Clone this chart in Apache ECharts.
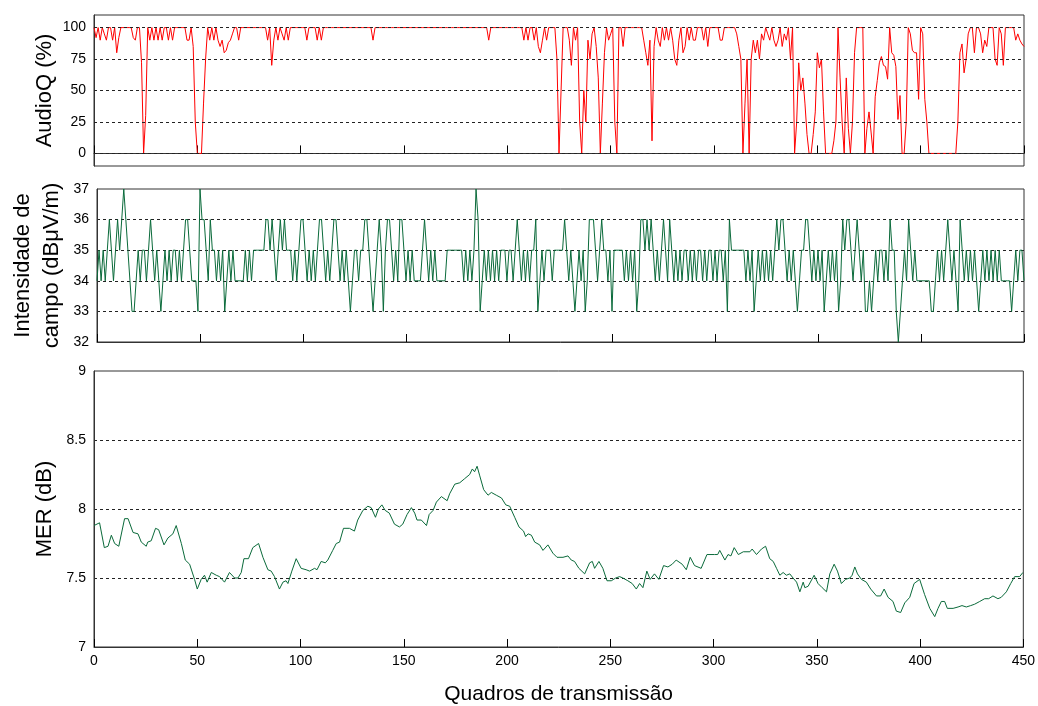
<!DOCTYPE html>
<html>
<head>
<meta charset="utf-8">
<script src="https://cdn.jsdelivr.net/npm/echarts@6/dist/echarts.min.js"></script>
<style>
html,body{margin:0;padding:0;background:#fff;}
#chart{width:1038px;height:706px;}
</style>
</head>
<body>
<div id="chart"></div>
<script>
// X axis ticks
const xTicks = [0, 50, 100, 150, 200, 250, 300, 350, 400, 450];
const audioTicks = [0, 25, 50, 75, 100];

// AudioQ (%) per transmission frame 0..450
const audioQ = [
100,92,100,90,100,95,90,100,100,90,
100,80,92,100,100,100,100,100,100,92,
90,100,100,72,0,30,100,90,100,90,
100,90,100,90,100,100,90,100,90,100,
100,100,100,100,100,90,90,100,85,25,
0,0,0,40,75,100,90,100,90,100,
90,85,90,80,82,88,90,95,100,100,
90,100,100,100,100,100,100,100,100,100,
100,100,100,100,90,100,70,90,100,90,
100,95,90,100,90,100,100,100,100,100,
100,100,100,90,100,100,100,100,90,100,
90,100,100,100,100,100,100,100,100,100,
100,100,100,100,100,100,100,100,100,100,
100,100,100,100,100,90,100,100,100,100,
100,100,100,100,100,100,100,100,100,100,
100,100,100,100,100,100,100,100,100,100,
100,100,100,100,100,100,100,100,100,100,
100,100,100,100,100,100,100,100,100,100,
100,100,100,100,100,100,100,100,100,100,
100,90,100,100,100,100,100,100,100,100,
100,100,100,100,100,100,100,100,90,100,
90,100,100,90,100,85,80,90,100,90,
100,100,100,100,75,0,50,100,100,100,
90,70,100,90,100,25,0,50,25,90,
75,95,100,85,60,0,40,80,100,90,
95,100,25,0,100,100,85,100,100,100,
100,100,100,100,100,100,90,80,70,90,
10,85,100,90,85,100,90,100,90,100,
90,75,70,90,100,80,85,100,90,100,
90,90,100,100,100,90,100,85,100,100,
100,100,100,90,90,100,100,100,100,100,
100,95,85,75,0,40,75,0,75,90,
80,90,75,95,90,100,95,90,100,90,
85,90,100,85,95,90,100,75,100,0,
25,72,50,60,40,15,0,0,15,33,
80,68,75,33,0,0,0,0,10,25,
100,60,25,0,60,20,0,25,80,100,
100,100,100,0,20,33,17,0,45,58,
72,77,70,69,59,100,80,78,69,27,
46,0,0,25,100,95,82,80,80,43,
100,95,43,25,0,0,0,0,0,0,
0,0,0,0,0,0,0,0,25,80,
87,64,75,95,100,100,80,100,100,95,
80,90,85,100,100,100,75,70,100,95,
70,100,100,100,100,100,90,95,90,87,
85
];

// Intensidade de campo (dBμV/m) per frame 0..450
const fieldStrength = [
34,35,34,35,34,35,36,35,34,35,
36,35,36,37,36,35,34,33,33,34,
35,34,35,35,34,35,36,35,34,35,
34,33,34,35,34,35,34,35,35,34,
35,34,35,36,36,35,34,34,34,33,
37,36,36,35,34,36,35,35,34,35,
34,35,33,34,35,34,35,34,34,34,
34,34,35,34,35,34,35,35,35,35,
35,35,36,36,35,36,35,34,35,36,
35,36,35,35,35,34,35,34,35,36,
36,35,34,35,34,35,34,35,36,36,
35,34,
35,34,35,36,36,35,34,35,
34,35,34,33,34,35,35,34,35,35,
36,36,35,34,33,34,35,36,35,33,
35,36,36,35,34,35,34,36,36,35,
34,35,34,35,34,34,34,34,35,36,
35,34,35,34,35,34,34,34,34,34,
35,35,35,35,35,35,35,35,34,35,
34,35,34,35,37,36,33,34,35,34,
35,34,35,34,35,34,35,35,35,34,
35,35,34,35,36,35,34,35,34,35,
34,35,35,36,33,34,35,34,35,35,
35,34,35,35,35,35,35,36,
35,34,35,34,33,34,35,34,35,33,
34,36,36,36,35,34,35,36,35,35,
34,35,33,35,35,35,35,35,34,35,
34,35,34,35,33,34,36,36,35,36,
35,36,35,34,35,34,35,36,35,34,
36,35,34,35,34,35,34,35,35,34,
35,34,35,34,35,35,34,35,34,35,
35,34,35,34,35,35,34,35,33,36,
35,35,35,35,35,35,35,34,35,34,
35,33,34,35,34,35,34,35,34,35,
34,35,36,35,36,36,35,34,35,34,
35,
34,33,34,35,35,36,36,35,34,35,
34,35,34,35,33,34,35,34,35,34,
35,33,34,36,35,36,36,35,34,35,
36,35,34,35,33,33,34,33,34,35,
34,35,35,34,35,34,36,35,35,33,
32,33,34,35,34,36,35,34,35,34,
34,34,34,34,34,34,33,33,34,35,
34,35,34,35,36,35,34,35,34,33,
36,35,34,35,34,35,34,35,34,33,
34,35,34,35,34,35,34,35,34,35,
34,34,34,34,34,33,34,35,34,35,
35,34
];

// MER (dB): sampled frame positions and values
const merX = [
0,2.7,5,6.8,8.4,10,12,14.8,16.5,18.9,
21.3,22.9,25.3,26,27.7,29.8,31.3,33.9,35.8,38.2,
39.8,42.3,44.2,46.3,48.7,50,51.9,53.5,54.8,56.8,
59.2,60.8,63.2,65.6,68.1,69.7,71.3,72.6,74.8,76.9,
79.7,81.8,84.2,85.8,87.4,89.8,91.5,93,93.9,95.8,
97.9,100.3,102.7,104.4,106.8,108,110,112,113.2,115.6,
117.3,118.9,120.8,123.7,126.1,127.7,130.2,132.6,134.2,136.3,
137.7,139.4,141,143,145.5,147.9,149.5,151.6,
153.7,155.3,156.4,158.5,161,162.3,164.2,165.8,168.2,169,
171,172.2,174.7,177.1,179.5,181.9,183.2,184.3,185.5,186.8,
188.7,190.8,192.4,194.8,197.3,199.4,201.3,203.7,205.8,208,
209,210.2,211.8,213.4,215.8,217.4,219.8,222.2,224.2,227.1,
229.5,231.1,232.7,234.8,237.6,240,241.3,242.4,244.5,246.4,
248.4,250.5,252.6,254.5,256.1,258.5,260.6,262.6,264.2,265.8,
267.7,269.3,271.4,273.5,275.8,277.9,280,281.9,284.8,286.8,
288.7,290.8,294,296.8,300.5,
302,303,305.5,307,308.4,310,312,314.4,317.6,318.7,
320.8,323.2,325.2,327.2,328.9,330.5,332.1,333.7,335.3,336.9,
338.5,340.2,341.8,343.4,344.2,345.8,348.7,350.6,352.6,354.7,
356.3,358.4,360,361.9,363.9,366,367.1,368.4,369.7,371.6,
374,376.1,378.9,380.9,382.6,384.5,386.9,388.5,390.6,392.6,
395,395.8,397.1,399.8,402.2,404.7,407.1,408.7,410.3,411.9,
413.2,416,418.4,420.3,422.4,424.5,426.4,428.9,431.3,433.2,
435.3,437.7,439.3,441.8,443.9,445.8,448.2,449.8
];
const merY = [
7.88,7.90,7.72,7.73,7.81,7.75,7.73,7.93,7.93,7.83,
7.82,7.76,7.73,7.76,7.77,7.86,7.85,7.74,7.79,7.82,
7.88,7.75,7.63,7.60,7.49,7.42,7.49,7.52,7.47,7.54,
7.52,7.51,7.47,7.54,7.50,7.50,7.54,7.64,7.64,7.72,
7.75,7.65,7.56,7.55,7.51,7.42,7.47,7.48,7.46,7.55,
7.64,7.57,7.56,7.55,7.57,7.56,7.62,7.61,7.63,7.70,
7.75,7.76,7.86,7.86,7.84,7.92,7.99,8.02,8.01,7.94,
8.00,8.03,7.99,7.97,7.89,7.87,7.89,7.96,
8.01,7.97,7.92,7.92,7.88,7.96,7.99,8.05,8.09,8.09,
8.06,8.11,8.18,8.19,8.22,8.25,8.29,8.27,8.31,8.24,
8.14,8.10,8.12,8.10,8.08,8.03,8.02,7.94,7.87,7.84,
7.80,7.82,7.81,7.76,7.74,7.70,7.74,7.68,7.65,7.65,
7.66,7.63,7.62,7.57,7.53,7.61,7.62,7.57,7.62,7.57,
7.48,7.48,7.50,7.51,7.50,7.48,7.46,7.42,7.46,7.43,
7.55,7.49,7.53,7.49,7.59,7.58,7.60,7.63,7.60,7.56,
7.65,7.59,7.57,7.67,7.67,
7.67,7.70,7.63,7.67,7.66,7.72,7.67,7.69,7.69,7.71,
7.67,7.71,7.73,7.64,7.62,7.57,7.52,7.54,7.52,7.53,
7.50,7.47,7.40,7.47,7.43,7.44,7.52,7.46,7.43,7.40,
7.53,7.60,7.55,7.46,7.49,7.50,7.52,7.58,7.53,7.49,
7.47,7.42,7.37,7.37,7.42,7.36,7.33,7.26,7.25,7.32,
7.36,7.36,7.46,7.49,7.38,7.28,7.22,7.28,7.33,7.33,
7.28,7.28,7.29,7.30,7.29,7.30,7.31,7.33,7.35,7.35,
7.37,7.35,7.36,7.40,7.46,7.51,7.51,7.54
];

const RED = '#ff0000';
const GREEN = '#0a6a3a';
const FONT = 'Liberation Sans, Arial, sans-serif';
const TICKFONT = 'Liberation Sans Narrow, Arial Narrow, Liberation Sans, sans-serif';

const chart = echarts.init(document.getElementById('chart'), null, {renderer: 'canvas'});

function xAxisFor(i, withLabels) {
  return {
    type: 'value', gridIndex: i, min: xTicks[0], max: xTicks[xTicks.length - 1], interval: 50,
    axisLine: {show: true, lineStyle: {color: '#333', width: 1}},
    axisTick: {show: true, inside: true, length: 8, lineStyle: {color: '#000'}},
    axisLabel: {show: withLabels, color: '#000', fontSize: 14, fontFamily: TICKFONT, margin: 7},
    splitLine: {show: false},
    name: withLabels ? 'Quadros de transmissão' : '',
    nameLocation: 'middle', nameGap: 37, nameMoveOverlap: false,
    nameTextStyle: {color: '#000', fontSize: 21, fontFamily: FONT}
  };
}

const dashed = {color: '#222', type: [3, 3], width: 1};
const nameStyle = {color: '#000', fontSize: 22, fontFamily: FONT, lineHeight: 29};
const tickLabel = {color: '#000', fontSize: 14, fontFamily: TICKFONT, margin: 8};

const option = {
  backgroundColor: '#fff',
  animation: false,
  grid: [
    {left: 94, right: 14, top: 15, height: 151, show: true, borderColor: '#333', borderWidth: 1},
    {left: 94, right: 14, top: 189, height: 153, show: true, borderColor: '#333', borderWidth: 1},
    {left: 94, right: 14, top: 371, height: 286, show: true, borderColor: '#333', borderWidth: 1}
  ],
  xAxis: [xAxisFor(0, false), xAxisFor(1, false), xAxisFor(2, true)],
  yAxis: [
    {
      type: 'value', gridIndex: 0, min: -10, max: 110,
      axisLine: {show: true, lineStyle: {color: '#333'}},
      axisTick: {show: false},
      axisLabel: Object.assign({customValues: audioTicks}, tickLabel),
      splitLine: {show: false},
      name: 'AudioQ (%)', nameLocation: 'middle', nameGap: 35, nameMoveOverlap: false, nameTextStyle: nameStyle
    },
    {
      type: 'value', gridIndex: 1, min: 32, max: 37, interval: 1,
      axisLine: {show: true, lineStyle: {color: '#333'}},
      axisTick: {show: false},
      axisLabel: tickLabel,
      splitLine: {show: true, showMinLine: false, showMaxLine: false, lineStyle: dashed},
      name: 'Intensidade de\ncampo (dBμV/m)', nameLocation: 'middle', nameGap: 31, nameMoveOverlap: false, nameTextStyle: nameStyle
    },
    {
      type: 'value', gridIndex: 2, min: 7, max: 9, interval: 0.5,
      axisLine: {show: true, lineStyle: {color: '#333'}},
      axisTick: {show: false},
      axisLabel: tickLabel,
      splitLine: {show: true, showMinLine: false, showMaxLine: false, lineStyle: dashed},
      name: 'MER (dB)', nameLocation: 'middle', nameGap: 35, nameMoveOverlap: false, nameTextStyle: nameStyle
    }
  ],
  series: [
    {
      name: 'grid-audio', type: 'line', xAxisIndex: 0, yAxisIndex: 0, data: [], z: 1, silent: true,
      markLine: {
        silent: true, symbol: 'none', label: {show: false}, animation: false,
        lineStyle: dashed,
        data: audioTicks.map(v => ({yAxis: v}))
      }
    },
    {
      name: 'AudioQ', type: 'line', xAxisIndex: 0, yAxisIndex: 0, z: 3,
      data: audioQ.map((v, i) => [i, v]),
      showSymbol: false, symbol: 'none',
      lineStyle: {color: RED, width: 1}
    },
    {
      name: 'Campo', type: 'line', xAxisIndex: 1, yAxisIndex: 1, z: 3,
      data: fieldStrength.map((v, i) => [i, v]),
      showSymbol: false, symbol: 'none',
      lineStyle: {color: GREEN, width: 1}
    },
    {
      name: 'MER', type: 'line', xAxisIndex: 2, yAxisIndex: 2, z: 3,
      data: merX.map((x, i) => [x, merY[i]]),
      showSymbol: false, symbol: 'none',
      lineStyle: {color: GREEN, width: 1}
    }
  ]
};
chart.setOption(option);
</script>
</body>
</html>
